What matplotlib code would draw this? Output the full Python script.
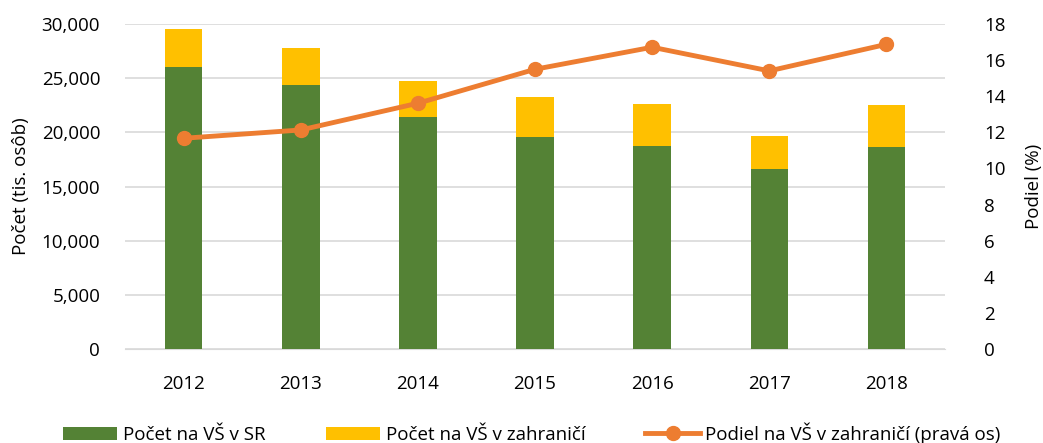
import matplotlib.pyplot as plt
import numpy as np

plt.rcParams['font.family'] = ['Open Sans', 'DejaVu Sans']

years = ['2012', '2013', '2014', '2015', '2016', '2017', '2018']
domestic = [26060, 24370, 21420, 19570, 18770, 16600, 18680]
abroad = [3480, 3390, 3320, 3700, 3820, 3040, 3820]
share = [11.67, 12.13, 13.61, 15.49, 16.71, 15.40, 16.87]

green = '#548235'
yellow = '#FFC000'
orange = '#ED7D31'

fig = plt.figure(figsize=(10.43, 4.43), dpi=100)
ax = fig.add_axes([0.12, 0.212, 0.786, 0.734])
x = np.arange(len(years))

b1 = ax.bar(x, domestic, width=0.32, color=green, label='Počet na VŠ v SR', zorder=3)
b2 = ax.bar(x, abroad, width=0.32, bottom=domestic, color=yellow,
            label='Počet na VŠ v zahraničí', zorder=3)
ax.set_ylim(0, 30000)
ax.set_xlim(-0.5, len(years) - 0.5)
ax.set_yticks(range(0, 30001, 5000))
ax.set_yticklabels([f'{v:,}' for v in range(0, 30001, 5000)])
ax.set_xticks(x)
ax.set_xticklabels(years)
ax.grid(axis='y', color='#d9d9d9', linewidth=1.2, zorder=0)
ax.set_ylabel('Počet (tis. osôb)', fontsize=13.5, labelpad=8)
for s in ['top', 'right', 'left']:
    ax.spines[s].set_visible(False)
ax.spines['bottom'].set_color('#d9d9d9')
ax.tick_params(axis='y', length=0, labelsize=13.5, pad=18)
ax.tick_params(axis='x', length=0, labelsize=13.5, pad=19)

ax2 = ax.twinx()
l1, = ax2.plot(x, share, color=orange, linewidth=3.5, marker='o', markersize=10,
               label='Podiel na VŠ v zahraničí (pravá os)', zorder=4)
ax2.set_ylim(0, 18)
ax2.set_yticks(range(0, 19, 2))
ax2.set_ylabel('Podiel (%)', fontsize=13.5, labelpad=14)
for s in ax2.spines.values():
    s.set_visible(False)
ax2.tick_params(length=0, labelsize=13.5, pad=28)

fig.legend(handles=[b1, b2, l1], loc='lower center', ncol=3, frameon=False,
           fontsize=13.5, bbox_to_anchor=(0.51, -0.04), handlelength=2.9,
           columnspacing=3.2, handletextpad=0.3)

fig.savefig('out.png', dpi=100)
